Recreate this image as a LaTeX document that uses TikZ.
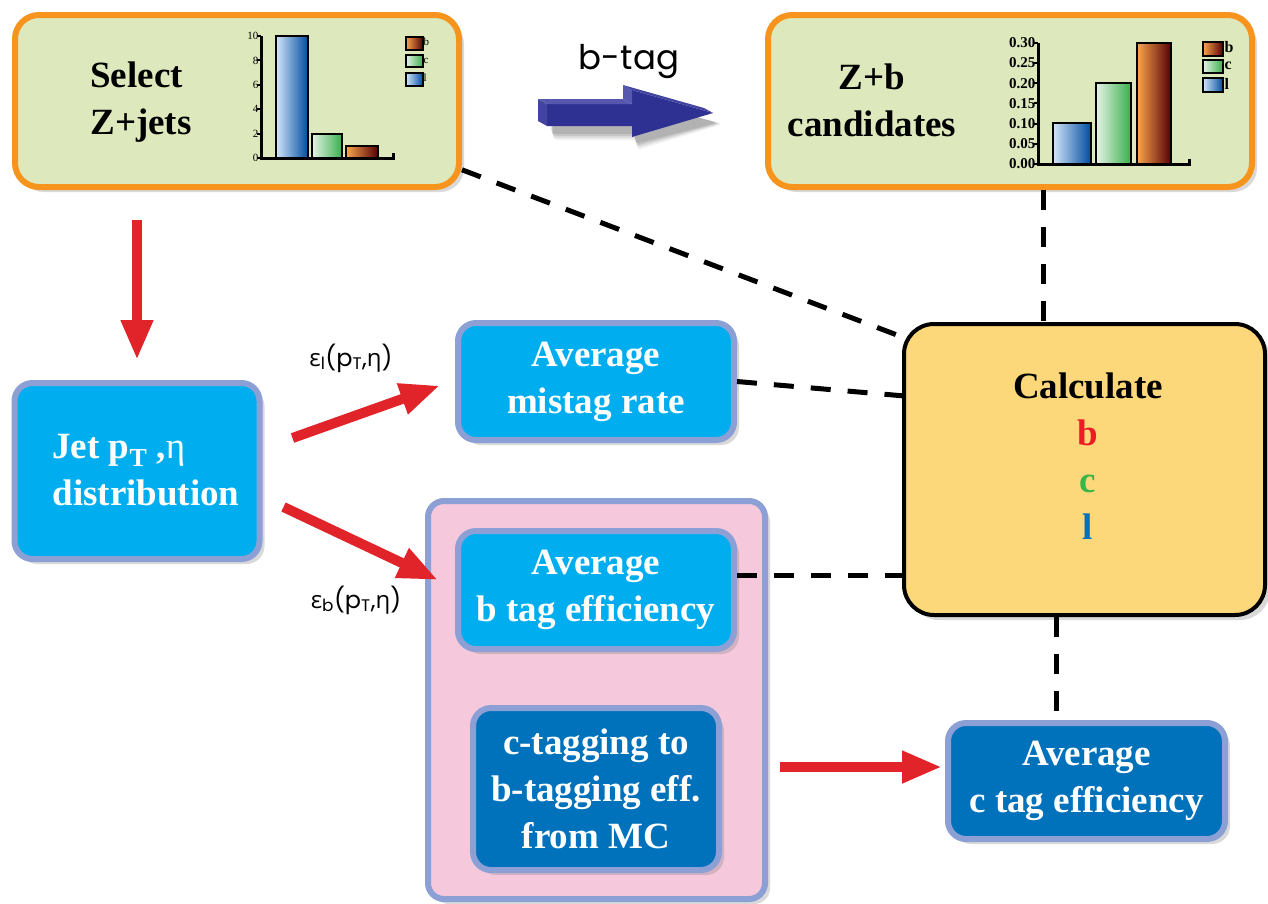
\documentclass[tikz,border=0pt]{standalone}
\usepackage{fontspec}
\setmainfont{Liberation Serif}
\newfontfamily\gothic{Poppins}
\newfontfamily\grk{Open Sans}
\usetikzlibrary{arrows.meta,shadows}
\definecolor{boxgreen}{RGB}{221,233,188}
\definecolor{boxorange}{RGB}{247,148,30}
\definecolor{boxcyan}{RGB}{0,174,239}
\definecolor{boxdark}{RGB}{0,114,188}
\definecolor{boxrim}{RGB}{140,160,214}
\definecolor{boxpink}{RGB}{246,200,220}
\definecolor{boxyellow}{RGB}{253,216,122}
\definecolor{arrred}{RGB}{225,35,42}
\definecolor{tagblue}{RGB}{46,49,146}
\definecolor{tagblueL}{RGB}{86,88,176}
\definecolor{tagblueM}{RGB}{66,68,160}
\definecolor{txtred}{RGB}{237,28,36}
\definecolor{txtgreen}{RGB}{57,181,74}
\definecolor{txtblue}{RGB}{0,114,188}
\definecolor{barblueL}{RGB}{210,230,248}
\definecolor{barblueM}{RGB}{0,140,220}
\definecolor{barblueD}{RGB}{0,75,160}
\definecolor{bargreenL}{RGB}{230,242,230}
\definecolor{bargreenD}{RGB}{55,175,75}
\definecolor{barredL}{RGB}{250,165,75}
\definecolor{barredM}{RGB}{185,35,40}
\definecolor{barredD}{RGB}{85,0,5}
\newcommand\boxfont{\fontsize{37}{47}\selectfont\bfseries}
\begin{document}
\begin{tikzpicture}[x=1pt,y=-1pt,
  softshadow/.style={drop shadow={shadow xshift=5pt,shadow yshift=-5pt,opacity=0.3}},
  panel/.style={rounded corners=18pt,line width=6pt,draw=boxrim,softshadow,inner sep=0pt,align=center,font=\boxfont,text=white},
  greenpanel/.style={panel,draw=boxorange,fill=boxgreen,rounded corners=24pt},
  cyanpanel/.style={panel,fill=boxcyan},
  darkpanel/.style={panel,fill=boxdark},
  txt/.style={font=\boxfont,inner sep=0pt},
  dashlink/.style={line width=5pt,dash pattern=on 20pt off 17pt},
  redarrow/.style={line width=10pt,draw=arrred,-{Triangle[width=30pt,length=40pt]}},
  bar/.style={draw=black,line width=2pt},
  bluebar/.style={bar,left color=barblueL,middle color=barblueM,right color=barblueD},
  greenbar/.style={bar,left color=bargreenL,right color=bargreenD},
  redbar/.style={bar,left color=barredL,middle color=barredM,right color=barredD},
  axisline/.style={line width=3pt,draw=black},
  effl/.style={font=\gothic\fontsize{24}{24}\selectfont,inner sep=0pt},
]
\useasboundingbox (0,0) rectangle (1268,903);

% helper coordinates for connector alignment
\coordinate (d2) at (1043,0);
\coordinate (d4) at (0,575);
\coordinate (d5) at (1056,0);
\coordinate (d6) at (0,767);

% boxes
\node[greenpanel,minimum width=444pt,minimum height=172pt] (sel) at (237,101) {};
\node[greenpanel,minimum width=484pt,minimum height=172pt] (zb) at (1010,101) {};
\node[panel,fill=boxyellow,draw=black,line width=4pt,rounded corners=30pt,minimum width=361pt,minimum height=291pt] (calc) at (1084.5,469.5) {};

\draw[dashlink] (sel.-17.5) -- (calc.144);
\draw[dashlink] (zb.south -| d2) -- (calc.north -| d2);

\node[cyanpanel,minimum width=245pt,minimum height=176pt] (jet) at (137,471) {};
\node[cyanpanel,minimum width=276pt,minimum height=117pt] (mis) at (596,381.5) {Average\\mistag rate};
\node[panel,fill=boxpink,rounded corners=16pt,minimum width=337pt,minimum height=398pt] (pink) at (596.5,700) {};
\node[cyanpanel,minimum width=276pt,minimum height=118pt] (beff) at (596,590) {Average\\b tag efficiency};
\node[darkpanel,minimum width=246pt,minimum height=162pt] (cmc) at (596,789) {c-tagging to\\b-tagging eff.\\from MC};
\node[darkpanel,minimum width=277pt,minimum height=116pt] (ceff) at (1086.5,781) {Average\\c tag efficiency};

\draw[dashlink] (mis.east) -- (calc.158);
\draw[dashlink] (beff.east |- d4) -- (calc.west |- d4);
\draw[dashlink] (calc.south -| d5) -- (ceff.north -| d5);

% texts
\node[txt,align=left] (selt) at (141,102) {Select\\Z+jets};
\node[txt,align=center] (zbt) at (872,100) {Z+b\\candidates};
\node[txt,align=left,text=white] (jett) at (146,470) {Jet p\textsubscript{T} ,{\mdseries η}\\distribution};
\node[txt,align=center] (calct) at (1088,456) {Calculate\\\textcolor{txtred}{b}\\\textcolor{txtgreen}{c}\\\textcolor{txtblue}{l}};

% red arrows
\draw[redarrow,shorten <=30pt,shorten >=20pt] (sel.south -| jet.north) -- (jet.north);
\draw[redarrow] ([shift={(30,-33)}]jet.east) -- ([shift={(-15,4)}]mis.west);
\draw[redarrow] ([shift={(21,36)}]jet.east) -- ([shift={(-17,-10)}]beff.west);
\draw[redarrow,shorten <=12pt] (pink.east |- d6) -- ([xshift=-3pt]ceff.west |- d6);

\node[effl] (epsl) at (351,358) {{\grk ε}\textsubscript{l}(p\textsubscript{T},{\grk η})};
\node[effl] (epsb) at (356,600) {{\grk ε}\textsubscript{b}(p\textsubscript{T},{\grk η})};

% b-tag 3D arrow
\node[font=\gothic\fontsize{34}{34}\selectfont,inner sep=0pt] (btag) at (629,62) {b-tag};
\foreach \s/\o in {10/0.06,8/0.08,6/0.1,4/0.1} {
  \fill[black,opacity=\o,rounded corners=4pt] ({550+\s*0.3},{112+\s*0.3}) -- ({634+\s*0.3},{112+\s*0.3}) -- ({634+\s*0.3},{98+\s*0.3}) -- ({713+\s},{122+\s*0.2}) -- ({634+\s*0.3},{140+\s}) -- ({634+\s*0.3},{130+\s}) -- ({550+\s*0.3},{130+\s}) -- cycle;
}
\fill[tagblue] (547,104) -- (632,104) -- (632,90) -- (713,113) -- (632,137) -- (632,126) -- (547,126) -- cycle;
\fill[tagblueM] (547,104) -- (547,126) -- (538,121) -- (538,99) -- cycle;
\fill[tagblueL] (547,104) -- (632,104) -- (623,99) -- (538,99) -- cycle;
\fill[tagblueL] (632,104) -- (632,90) -- (623,85) -- (623,99) -- cycle;
\fill[tagblueM] (632,90) -- (713,113) -- (704,108) -- (623,85) -- cycle;

% chart 1
\path[bluebar] (276,158) rectangle (308,36);
\path[greenbar] (312,158) rectangle (342,134);
\path[redbar] (346,158) rectangle (378,146);
\draw[axisline] (261,36) -- (261,158) -- (393,158) -- (393,153);
\foreach \v in {0,2,4,6,8,10} {
  \draw[line width=2pt] (257,{158-12.2*\v}) -- (261,{158-12.2*\v});
  \node[anchor=east,inner sep=0.5pt,font=\fontsize{11}{11}\selectfont] at (259,{158-12.2*\v}) {\v};
}
\path[redbar] (406,37) rectangle (423,50);
\path[greenbar] (406,55) rectangle (423,67);
\path[bluebar] (406,73) rectangle (423,86);
\node[anchor=west,inner sep=0.5pt,font=\fontsize{11}{11}\selectfont] at (423,42) {b};
\node[anchor=west,inner sep=0.5pt,font=\fontsize{11}{11}\selectfont] at (423,61) {c};
\node[anchor=west,inner sep=0.5pt,font=\fontsize{11}{11}\selectfont] at (423,78) {l};

% chart 2
\path[bluebar] (1053,164) rectangle (1091,123);
\path[greenbar] (1096,164) rectangle (1131,83);
\path[redbar] (1137,164) rectangle (1171,43);
\draw[axisline] (1038,43) -- (1038,164) -- (1189,164) -- (1189,159);
\foreach \v/\lab in {0/0.00,1/0.05,2/0.10,3/0.15,4/0.20,5/0.25,6/0.30} {
  \draw[line width=2pt] (1034,{164-20.2*\v}) -- (1038,{164-20.2*\v});
  \node[anchor=east,inner sep=0.5pt,font=\fontsize{15}{15}\selectfont\bfseries] at (1036,{164-20.2*\v}) {\lab};
}
\path[redbar] (1203,42) rectangle (1223,56);
\path[greenbar] (1203,60) rectangle (1223,73);
\path[bluebar] (1203,78) rectangle (1223,92);
\node[anchor=west,inner sep=0.5pt,font=\fontsize{16}{16}\selectfont\bfseries] at (1224,47) {b};
\node[anchor=west,inner sep=0.5pt,font=\fontsize{16}{16}\selectfont\bfseries] at (1224,66) {c};
\node[anchor=west,inner sep=0.5pt,font=\fontsize{16}{16}\selectfont\bfseries] at (1224,84) {l};
\end{tikzpicture}
\end{document}
